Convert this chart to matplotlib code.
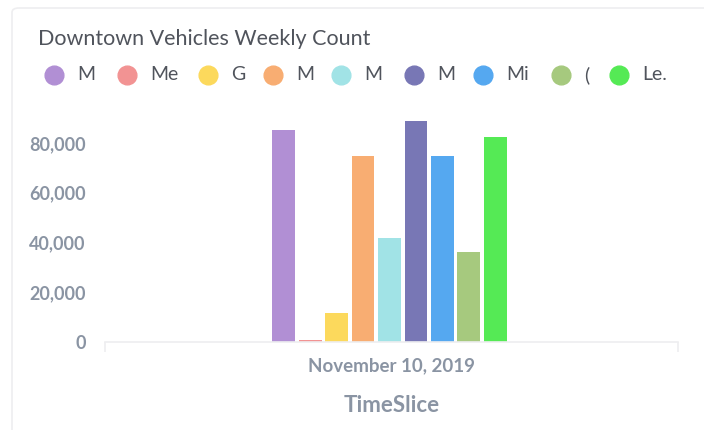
import matplotlib.pyplot as plt
from matplotlib.patches import FancyBboxPatch
from matplotlib.ticker import FuncFormatter

# legend labels are cut off in the source chart
labels = ["M", "Me", "G", "M", "M", "M", "Mi", "(", "Le."]
counts = [85000, 1000, 11500, 74800, 41700, 88800, 74800, 36300, 82500]
colors = ["#b18fd4", "#f29393", "#fcd95c", "#f8ad72", "#a1e3e6",
          "#7877b5", "#55a8f0", "#a6c97e", "#55ea55"]
category = "November 10, 2019"

plt.rcParams['font.family'] = ['Lato', 'DejaVu Sans']

fig = plt.figure(figsize=(7.04, 4.30), dpi=100)

# card outline
card = FancyBboxPatch((12 / 704, -0.05), 1.2, 1 - 8 / 430 + 0.05,
                      boxstyle="round,pad=0,rounding_size=0.01",
                      transform=fig.transFigure, fill=False,
                      edgecolor="#eeeef0", linewidth=1.2)
fig.patches.append(card)

ax = fig.add_axes([105 / 704, 1 - 342 / 430, (678 - 105) / 704, (342 - 118) / 430])

step = 0.0462
width = 0.040
shift = -0.0035
n = len(counts)
for i, (v, c) in enumerate(zip(counts, colors)):
    x = (i - (n - 1) / 2) * step + shift
    ax.bar(x, v, width=width, color=c, linewidth=0)

ax.set_xlim(-0.5, 0.5)
ax.set_ylim(0, 90000)
ax.set_yticks([0, 20000, 40000, 60000, 80000])
ax.yaxis.set_major_formatter(FuncFormatter(lambda v, p: f"{int(v):,}"))
ax.set_xticks([0])
ax.set_xticklabels([category])
ax.set_xticks([-0.5, 0.5], minor=True)

for s in ["top", "right", "left"]:
    ax.spines[s].set_visible(False)
ax.spines["bottom"].set_color("#eeeef0")
ax.spines["bottom"].set_linewidth(1.2)

grey = "#8a94a3"
ax.tick_params(axis="y", length=0, pad=14, labelsize=13, labelcolor=grey)
ax.tick_params(axis="x", which="major", length=0, pad=11, labelsize=13.5, labelcolor=grey)
ax.tick_params(axis="x", which="minor", length=7, color="#eeeef0", width=1.2)
for t in ax.get_xticklabels() + ax.get_yticklabels():
    t.set_fontweight("bold")

ax.set_xlabel("TimeSlice", fontsize=16, fontweight="bold", color=grey, labelpad=15)

text_col = "#50545c"
fig.text(38 / 704, 1 - 39 / 430, "Downtown Vehicles Weekly Count", fontsize=15.5,
         color=text_col, va="center", ha="left")

# legend row
dot_x = [54, 127, 208, 273, 341, 414, 483, 561, 619]
ly = 1 - 75 / 430
for xp, lab, c in zip(dot_x, labels, colors):
    fig.lines.append(plt.Line2D([xp / 704], [ly], marker="o", markersize=13.5,
                                color=c, transform=fig.transFigure))
    fig.text((xp + 23) / 704, ly, lab, fontsize=14, color=text_col,
             va="center", ha="left")

fig.savefig("out.png", dpi=100, facecolor="white")
